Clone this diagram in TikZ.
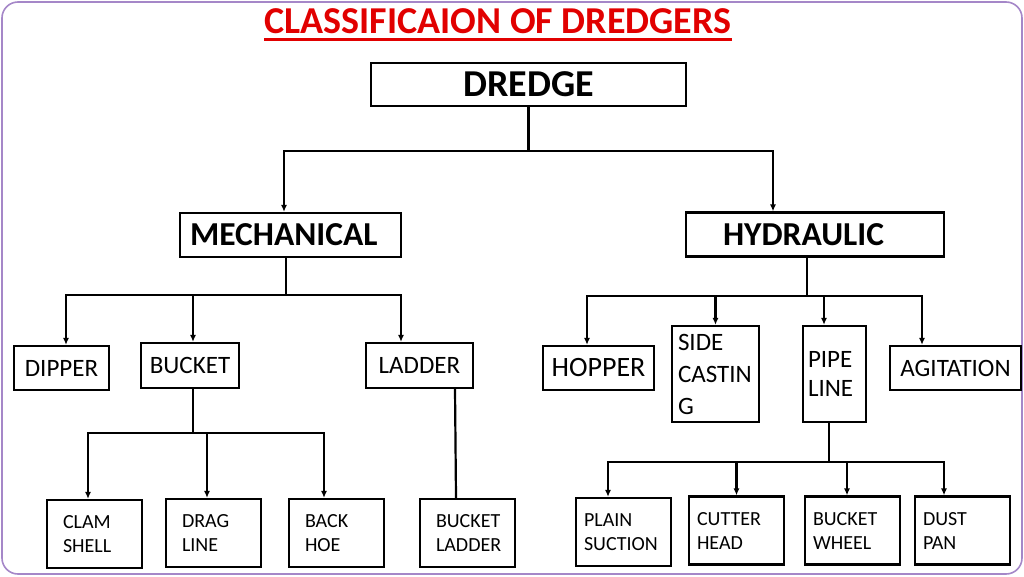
\documentclass[tikz,border=0pt]{standalone}
\usepackage{fontspec}
\setmainfont{Carlito}
\usepackage{tikz}
\usetikzlibrary{arrows.meta}

\definecolor{framecol}{RGB}{165,135,200}
\definecolor{titlered}{RGB}{225,0,0}

\tikzset{
  box/.style={draw, line width=2.2pt, inner sep=0pt, align=center},
  top/.style={box, minimum height=44pt, font=\bfseries\fontsize{33.5}{40}\selectfont},
  mid/.style={box, minimum height=44pt, font=\fontsize{25}{30}\selectfont},
  leaf/.style={box, minimum height=68pt, align=left, inner xsep=16pt, text width=63pt,
    font=\fontsize{20}{24}\selectfont},
  hleaf/.style={leaf, inner xsep=8pt, text width=79pt},
  link/.style={line width=2.2pt},
  arr/.style={line width=2.2pt, -{Latex[length=7pt,width=6pt]}}
}

\begin{document}
\begin{tikzpicture}[x=1pt, y=-1pt]
        \useasboundingbox (0,0) rectangle (1024,576);
        \draw[framecol, line width=1.6pt, rounded corners=16pt] (2,2) rectangle (1022,574);

        % title
        \node[inner sep=0pt, text=titlered, font=\bfseries\fontsize{38}{44}\selectfont] (title) at (498,21.5) {CLASSIFICAION OF DREDGERS};
        \draw[titlered, line width=3pt] ([yshift=-5pt]title.south west) -- ([yshift=-5pt]title.south east);

        % levels
        \node[box, minimum width=315pt, minimum height=43pt, font=\bfseries\fontsize{38}{44}\selectfont] (dredge) at (528.5,84.5) {DREDGE};
        \node[top, minimum width=221pt, align=left, inner xsep=10pt, text width=201pt] (mech) at (290.5,235) {MECHANICAL};
        \node[top, minimum width=258pt, align=left, inner xsep=37pt, text width=184pt] (hyd) at (815,234.5) {HYDRAULIC};

        \node[mid, minimum width=95pt] (dipper) at (61.5,368) {DIPPER};
        \node[mid, minimum width=98pt, minimum height=45pt] (bucket) at (190,365.5) {BUCKET};
        \node[mid, minimum width=107pt, minimum height=45pt] (ladder) at (419.5,365.5) {LADDER};
        \node[mid, minimum width=111pt, font=\fontsize{28}{32}\selectfont] (hopper) at (598.5,368) {HOPPER};
        \node[mid, minimum height=96pt, align=left, inner xsep=6pt, text width=75pt, font=\fontsize{25}{32}\selectfont] (side) at (715.5,374) {SIDE\\CASTIN\\G};
        \node[mid, minimum height=96pt, align=left, inner xsep=5pt, text width=53pt, font=\fontsize{25}{29}\selectfont] (pipe) at (834.5,374) {PIPE\\LINE};
        \node[mid, minimum width=131pt] (agit) at (955.5,368) {AGITATION};

        \node[leaf] (clam) at (94.5,534) {CLAM\\SHELL};
        \node[leaf] (drag) at (213.5,533) {DRAG\\LINE};
        \node[leaf] (back) at (336.5,533) {BACK\\HOE};
        \node[leaf] (blad) at (467.5,533) {BUCKET\\LADDER};
        \node[hleaf] (plain) at (623.5,532) {PLAIN\\SUCTION};
        \node[hleaf] (cutter) at (736.5,530.5) {CUTTER\\HEAD};
        \node[hleaf] (wheel) at (852.5,530.5) {BUCKET\\WHEEL};
        \node[hleaf] (dust) at (962.5,530.5) {DUST\\PAN};

        % branch points
        \coordinate (topbus) at (528.5,151);
        \coordinate (mbus) at (286,295);
        \coordinate (hbus) at (807,296);
        \coordinate (bbus) at (193,433);
        \coordinate (pbus) at (829,462);

        \draw[link] (dredge.south) -- (topbus);
        \draw[arr] (topbus) -| ([xshift=-6.5pt]mech.north);
        \draw[arr] (topbus) -| ([xshift=-42pt]hyd.north);

        \draw[link] ([xshift=-4.5pt]mech.south) -- (mbus);
        \draw[arr] (mbus) -| ([xshift=4.5pt]dipper.north);
        \draw[arr] (mbus) -| ([xshift=3pt]bucket.north);
        \draw[arr] (mbus) -| ([xshift=-18.5pt]ladder.north);

        \draw[link] ([xshift=-8pt]hyd.south) -- (hbus);
        \draw[arr] (hbus) -| ([xshift=-11.5pt]hopper.north);
        \draw[arr] (hbus) -| (side.north);
        \draw[arr] (hbus) -| ([xshift=-10.5pt]pipe.north);
        \draw[arr] (hbus) -| ([xshift=-33.5pt]agit.north);

        \draw[link] ([xshift=3pt]bucket.south) -- (bbus);
        \draw[arr] (bbus) -| ([xshift=-6.5pt]clam.north);
        \draw[arr] (bbus) -| ([xshift=-6.5pt]drag.north);
        \draw[arr] (bbus) -| ([xshift=-12.5pt]back.north);
        \draw[link] ([xshift=35.5pt]ladder.south) -- ([xshift=-11.5pt]blad.north);

        \draw[link] ([xshift=-5.5pt]pipe.south) -- (pbus);
        \draw[arr] (pbus) -| ([xshift=-15.5pt]plain.north);
        \draw[arr] (pbus) -| (cutter.north);
        \draw[arr] (pbus) -| ([xshift=-5.5pt]wheel.north);
        \draw[arr] (pbus) -| ([xshift=-18.5pt]dust.north);
\end{tikzpicture}
\end{document}
